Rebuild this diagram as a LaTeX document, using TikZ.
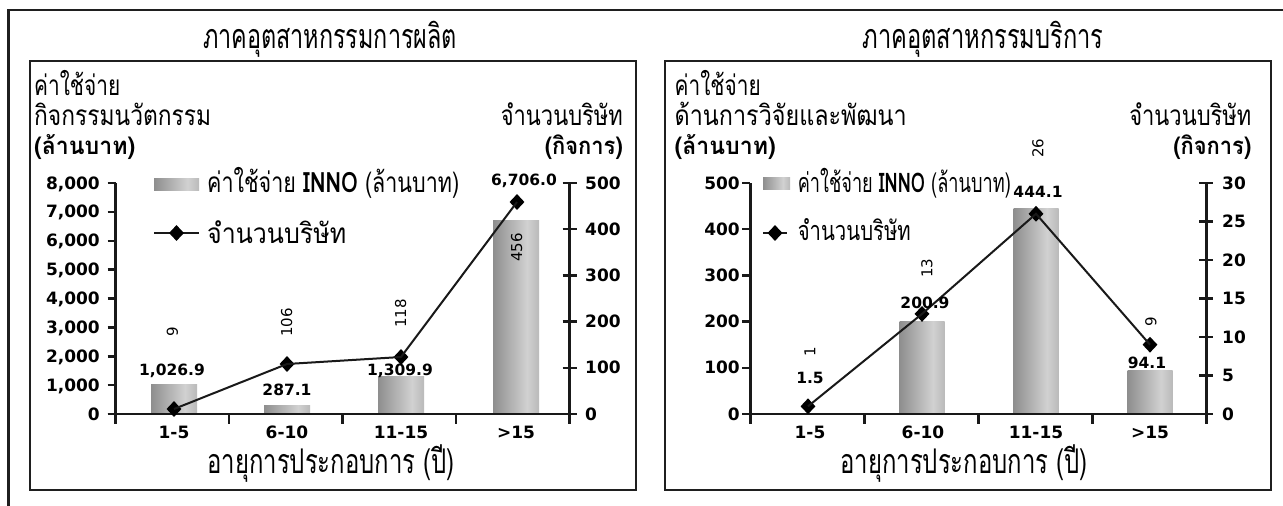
\documentclass[tikz,border=0pt]{standalone}
\usepackage{fontspec}
\usepackage{graphicx}
\usetikzlibrary{shapes.geometric}
\setmainfont{DejaVu Sans}
\newfontfamily\thai[Script=Thai]{Loma}
\newcommand\fitw[2]{\resizebox{#1pt}{\height}{#2}}
\pgfdeclarehorizontalshading{barshade}{100bp}{color(0bp)=(black!62); color(62bp)=(black!18); color(100bp)=(black!45)}
\begin{document}
\begin{tikzpicture}[x=1pt,y=-1pt,
  frame/.style={draw=black!88, line width=2.6pt},
  axisline/.style={draw=black!90, line width=2.5pt},
  bar/.style={shading=barshade},
  pt/.style={diamond, fill=black, inner sep=0pt, minimum width=15pt, minimum height=16pt},
  conn/.style={draw=black!90, line width=2pt},
  thT/.style={inner sep=0pt, font=\thai\fontsize{34}{34}\selectfont},
  thA/.style={inner sep=0pt, font=\thai\fontsize{28}{28}\selectfont},
  thB/.style={inner sep=0pt, font=\thai\bfseries\fontsize{24}{24}\selectfont},
  thL/.style={inner sep=0pt, font=\thai\fontsize{27}{27}\selectfont},
  yl/.style={inner sep=0pt, font=\bfseries\fontsize{17}{17}\selectfont},
  vl/.style={inner sep=0pt, font=\bfseries\fontsize{15.5}{15.5}\selectfont, anchor=base},
  cl/.style={inner sep=0pt, font=\fontsize{15}{15}\selectfont, rotate=90, anchor=west},
  xl/.style={inner sep=0pt, font=\bfseries\fontsize{17}{17}\selectfont, anchor=base}]
\useasboundingbox (0,0) rectangle (1283,506);
\fill[white] (0,0) rectangle (1283,506);
% outer frame
\coordinate (o1) at (8.5,506);
\coordinate (o2) at (8.5,10);
\coordinate (o3) at (1283,10);
\draw[frame] (o1) -- (o2) -- (o3);
% inner boxes
\draw[frame] (30,61) rectangle (636,490);
\draw[frame] (665,61) rectangle (1271,490);
% titles
\node[thT, anchor=base] (tL) at (330,48) {\fitw{254}{ภาคอุตสาหกรรมการผลิต}};
\node[thT, anchor=base] (tR) at (983,48) {\fitw{241}{ภาคอุตสาหกรรมบริการ}};
% ---------- LEFT CHART ----------
\node[thA, anchor=base west] (la1) at (34,95) {\fitw{86}{ค่าใช้จ่าย}};
\node[thA, anchor=base west] (la2) at (34,125) {\fitw{177}{กิจกรรมนวัตกรรม}};
\node[thB, anchor=base west] (la3) at (34,154) {\fitw{101}{(ล้านบาท)}};
\node[thA, anchor=base east] (ra1) at (623,125) {\fitw{122}{จำนวนบริษัท}};
\node[thB, anchor=base east] (ra2) at (623,154) {\fitw{78}{(กิจการ)}};
% bars
\path[bar] (151,414) rectangle (197,384.3);
\path[bar] (264,414) rectangle (310,405.7);
\path[bar] (378,414) rectangle (424,376.2);
\path[bar] (493,414) rectangle (539,220.4);
% axes
\draw[axisline] (115.5,183) -- (115.5,414);
\draw[axisline] (569.7,183) -- (569.7,414);
\draw[axisline] (107.5,414) -- (576.7,414);
\foreach \i [evaluate=\i as \yy using 414-\i*28.875] in {0,...,8}
  \draw[axisline] (107.5,\yy) -- (115.5,\yy);
\foreach \i [evaluate=\i as \yy using 414-\i*46.2] in {0,...,5}
  \draw[axisline] (562.7,\yy) -- (576.7,\yy);
\foreach \xx in {115.5,229,342.6,456.1,569.7}
  \draw[axisline] (\xx,414) -- (\xx,424);
\foreach \v [count=\i from 0, evaluate=\i as \yy using 414-\i*28.875+6] in {0,{1,000},{2,000},{3,000},{4,000},{5,000},{6,000},{7,000},{8,000}}
  \node[yl, anchor=base east] (lt\i) at (100,\yy) {\v};
\foreach \v [count=\i from 0, evaluate=\i as \yy using 414-\i*46.2+6] in {0,100,200,300,400,500}
  \node[yl, anchor=base west] (rt\i) at (585,\yy) {\v};
% line
\node[pt] (lp1) at (174,409) {};
\node[pt] (lp2) at (287,364) {};
\node[pt] (lp3) at (401,357) {};
\node[pt] (lp4) at (517,202) {};
\draw[conn] (lp1.center) -- (lp2.center) -- (lp3.center) -- (lp4.center);
% value labels
\node[vl] (lv1) at (172,375) {1,026.9};
\node[vl] (lv2) at (287,395) {287.1};
\node[vl] (lv3) at (400,375) {1,309.9};
\node[vl] (lv4) at (524,185) {6,706.0};
% count labels
\node[cl] (lc1) at (172.5,337) {9};
\node[cl] (lc2) at (286.6,337) {106};
\node[cl] (lc3) at (400.6,328) {118};
\node[cl] (lc4) at (516.7,262) {456};
% categories
\node[xl] (lx1) at (174,438) {1-5};
\node[xl] (lx2) at (287,438) {6-10};
\node[xl] (lx3) at (401,438) {11-15};
\node[xl] (lx4) at (516,438) {>15};
\node[thT, anchor=base] (lxt) at (331,473) {\fitw{247}{อายุการประกอบการ (ปี)}};
% legend
\path[bar] (154,178) rectangle (199,190);
\node[thA, anchor=base west] (lg1) at (207,192) {\fitw{252}{ค่าใช้จ่าย {\bfseries INNO} (ล้านบาท)}};
\coordinate (lga) at (154,233);
\coordinate (lgb) at (199,233);
\draw[conn] (lga) -- (lgb);
\node[pt] (lgd) at (176.5,233) {};
\node[thA, anchor=base west] (lg2) at (207,243) {\fitw{139}{จำนวนบริษัท}};
% ---------- RIGHT CHART ----------
\node[thA, anchor=base west] (la1r) at (674.5,95) {\fitw{86}{ค่าใช้จ่าย}};
\node[thA, anchor=base west] (la2r) at (674.5,125) {\fitw{232}{ด้านการวิจัยและพัฒนา}};
\node[thB, anchor=base west] (la3r) at (674.5,154) {\fitw{101}{(ล้านบาท)}};
\node[thA, anchor=base east] (ra1r) at (1251.5,125) {\fitw{122}{จำนวนบริษัท}};
\node[thB, anchor=base east] (ra2r) at (1251.5,154) {\fitw{78}{(กิจการ)}};
% bars
\path[bar] (899.5,414) rectangle (944.5,321.2);
\path[bar] (1013.5,414) rectangle (1058.5,208.8);
\path[bar] (1127.5,414) rectangle (1172.5,370.5);
% axes
\draw[axisline] (750.4,183) -- (750.4,414);
\draw[axisline] (1206.3,183) -- (1206.3,414);
\draw[axisline] (742.4,414) -- (1213.3,414);
\foreach \i [evaluate=\i as \yy using 414-\i*46.2] in {0,...,5}
  \draw[axisline] (742.4,\yy) -- (750.4,\yy);
\foreach \i [evaluate=\i as \yy using 414-\i*38.5] in {0,...,6}
  \draw[axisline] (1199.3,\yy) -- (1213.3,\yy);
\foreach \xx in {750.4,864.4,978.4,1092.3,1206.3}
  \draw[axisline] (\xx,414) -- (\xx,424);
\foreach \v [count=\i from 0, evaluate=\i as \yy using 414-\i*46.2+6] in {0,100,200,300,400,500}
  \node[yl, anchor=base east] (ltr\i) at (740,\yy) {\v};
\foreach \v [count=\i from 0, evaluate=\i as \yy using 414-\i*38.5+6] in {0,5,10,15,20,25,30}
  \node[yl, anchor=base west] (rtr\i) at (1222,\yy) {\v};
% line
\node[pt] (rp1) at (808,406.3) {};
\node[pt] (rp2) at (922,313.9) {};
\node[pt] (rp3) at (1036,213.8) {};
\node[pt] (rp4) at (1150,344.7) {};
\draw[conn] (rp1.center) -- (rp2.center) -- (rp3.center) -- (rp4.center);
% value labels
\node[vl] (rv1) at (810,383) {1.5};
\node[vl] (rv2) at (925,308) {200.9};
\node[vl] (rv3) at (1038,197) {444.1};
\node[vl] (rv4) at (1147,368) {94.1};
% count labels
\node[cl] (rc1) at (810,357) {1};
\node[cl] (rc2) at (927,278) {13};
\node[cl] (rc3) at (1038,158) {26};
\node[cl] (rc4) at (1151,327) {9};
% categories
\node[xl] (rx1) at (810,438) {1-5};
\node[xl] (rx2) at (923,438) {6-10};
\node[xl] (rx3) at (1036,438) {11-15};
\node[xl] (rx4) at (1150,438) {>15};
\node[thT, anchor=base] (rxt) at (964,473) {\fitw{247}{อายุการประกอบการ (ปี)}};
% legend
\path[bar] (763,177) rectangle (790,189);
\node[thL, anchor=base west] (rg1) at (797.6,192) {\fitw{213}{ค่าใช้จ่าย {\bfseries INNO} (ล้านบาท)}};
\coordinate (rga) at (763,233);
\coordinate (rgb) at (787,233);
\draw[conn] (rga) -- (rgb);
\node[pt] (rgd) at (775,233) {};
\node[thL, anchor=base west] (rg2) at (797.6,240) {\fitw{113}{จำนวนบริษัท}};
\end{tikzpicture}
\end{document}
